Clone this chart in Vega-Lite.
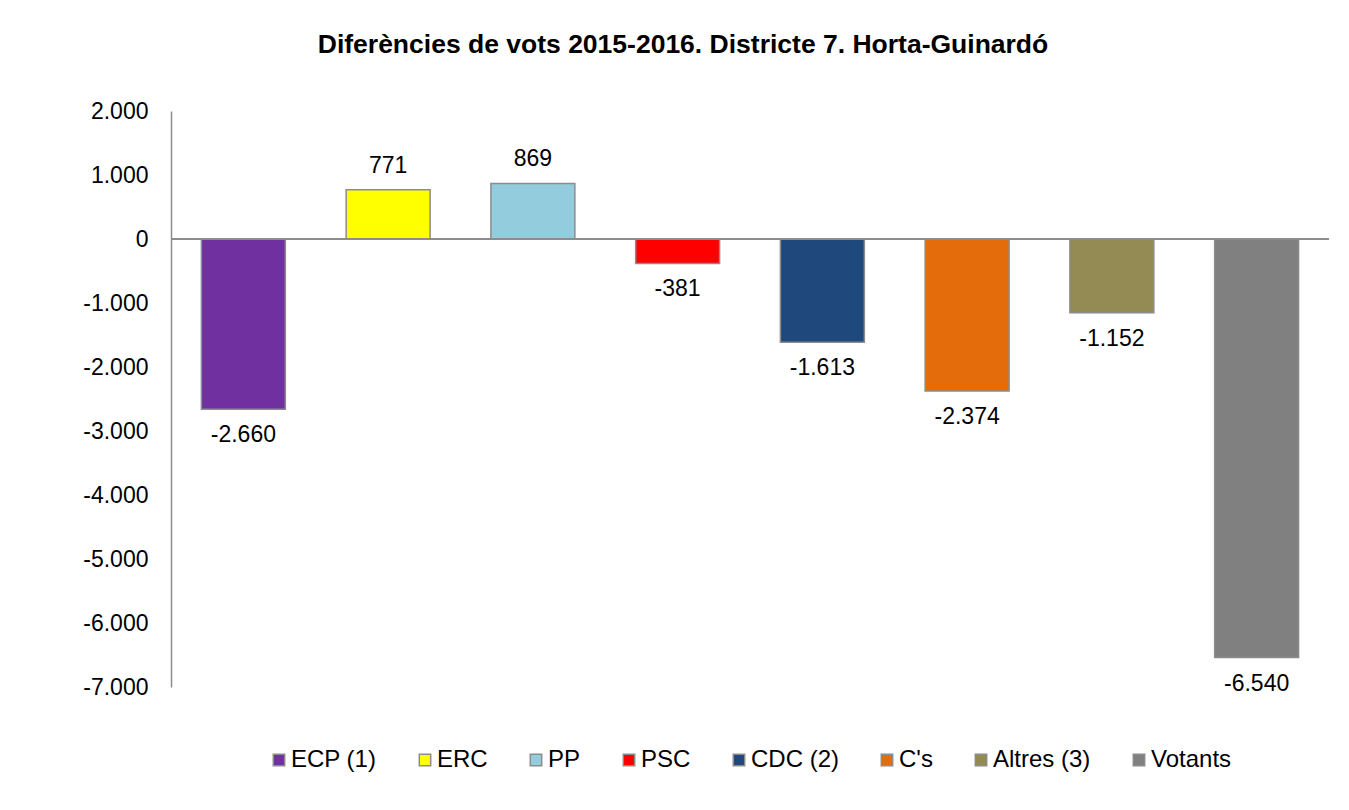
{
  "$schema": "https://vega.github.io/schema/vega-lite/v6.json",
  "width": 1158,
  "height": 576,
  "autosize": {"type": "none"},
  "padding": {"left": 171, "top": 111, "right": 20, "bottom": 123},
  "background": "white",
  "config": {
    "locale": {"number": {"decimal": ",", "thousands": ".", "grouping": [3], "currency": ["", " €"], "minus": "-"}},
    "font": "Liberation Sans",
    "view": {"stroke": null}
  },
  "title": {
    "text": "Diferències de vots 2015-2016. Districte 7. Horta-Guinardó",
    "font": "Liberation Sans",
    "fontSize": 26.5,
    "fontWeight": "bold",
    "color": "#000000",
    "anchor": "middle",
    "frame": "group",
    "dx": -67,
    "offset": 42
  },
  "data": {
    "values": [
      {"partit": "ECP (1)", "dif": -2660},
      {"partit": "ERC", "dif": 771},
      {"partit": "PP", "dif": 869},
      {"partit": "PSC", "dif": -381},
      {"partit": "CDC (2)", "dif": -1613},
      {"partit": "C's", "dif": -2374},
      {"partit": "Altres (3)", "dif": -1152},
      {"partit": "Votants", "dif": -6540}
    ]
  },
  "encoding": {
    "x": {
      "field": "partit",
      "type": "nominal",
      "sort": null,
      "axis": null,
      "scale": {"paddingInner": 0.42, "paddingOuter": 0.21}
    }
  },
  "layer": [
    {
      "mark": {"type": "bar", "stroke": "#8c8c8c", "strokeWidth": 1.5},
      "encoding": {
        "y": {
          "field": "dif",
          "type": "quantitative",
          "scale": {"domain": [-7000, 2000], "nice": false, "zero": false},
          "axis": {
            "title": null,
            "values": [-7000, -6000, -5000, -4000, -3000, -2000, -1000, 0, 1000, 2000],
            "format": ",d",
            "grid": false,
            "ticks": false,
            "labelPadding": 23,
            "labelFont": "Liberation Sans",
            "labelFontSize": 23,
            "labelColor": "#000000",
            "domainColor": "#8c8c8c",
            "domainWidth": 1.5
          }
        },
        "color": {
          "field": "partit",
          "type": "nominal",
          "sort": null,
          "scale": {
            "domain": ["ECP (1)", "ERC", "PP", "PSC", "CDC (2)", "C's", "Altres (3)", "Votants"],
            "range": ["#7030A0", "#FFFF00", "#93CDDD", "#FF0000", "#1F497D", "#E46C0A", "#948A54", "#808080"]
          },
          "legend": {
            "title": null,
            "orient": "none",
            "direction": "horizontal",
            "columns": 8,
            "legendX": 96,
            "legendY": 637,
            "padding": 0,
            "columnPadding": 36,
            "symbolType": "square",
            "symbolSize": 130,
            "symbolStrokeColor": "#8c8c8c",
            "symbolStrokeWidth": 1.5,
            "symbolOpacity": 1,
            "labelOffset": 0,
            "labelFont": "Liberation Sans",
            "labelFontSize": 24,
            "labelColor": "#000000",
            "labelLimit": 300
          }
        }
      }
    },
    {
      "mark": {"type": "rule", "color": "#8c8c8c", "strokeWidth": 1.5},
      "encoding": {"y": {"datum": 0, "type": "quantitative"}, "x": null, "color": null}
    },
    {
      "transform": [{"filter": "datum.dif >= 0"}],
      "mark": {"type": "text", "baseline": "alphabetic", "dy": -17, "fontSize": 23, "font": "Liberation Sans", "color": "#000000"},
      "encoding": {
        "y": {"field": "dif", "type": "quantitative"},
        "text": {"field": "dif", "type": "quantitative", "format": ",d"}
      }
    },
    {
      "transform": [{"filter": "datum.dif < 0"}],
      "mark": {"type": "text", "baseline": "top", "dy": 15, "fontSize": 23, "font": "Liberation Sans", "color": "#000000"},
      "encoding": {
        "y": {"field": "dif", "type": "quantitative"},
        "text": {"field": "dif", "type": "quantitative", "format": ",d"}
      }
    }
  ]
}
